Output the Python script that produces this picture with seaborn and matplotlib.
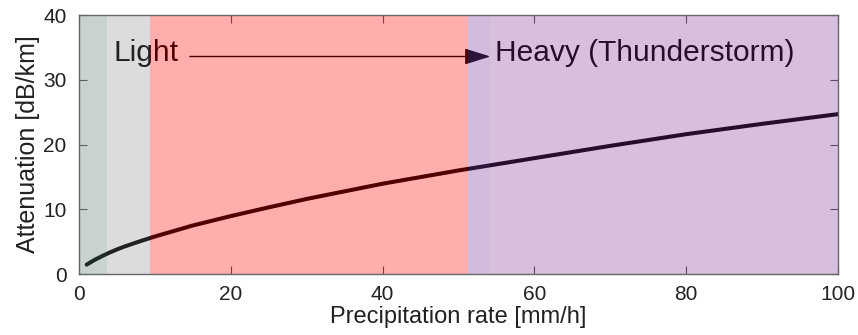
import matplotlib
matplotlib.use("Agg")
import matplotlib.pyplot as plt
import seaborn as sns
import pandas as pd

# Rain attenuation versus precipitation rate
rate_mm_h = [1, 2, 3, 4, 5, 6, 8, 10, 15, 20, 25, 30, 40, 50, 60, 70, 80, 90, 100]
attenuation_db_km = [1.45, 2.15, 2.75, 3.3, 3.8, 4.25, 5.05, 5.8, 7.5, 8.95,
                     10.3, 11.6, 13.95, 16.0, 17.9, 19.8, 21.6, 23.2, 24.7]

# Rain intensity bands (mm/h)
band_edges = [0, 9.4, 51.3, 100]
band_labels = ["Light", "Heavy (Thunderstorm)"]

x_ticks = [0, 20, 40, 60, 80, 100]
y_ticks = [0, 10, 20, 30, 40]

sns.set_style("white")
plt.rcParams["font.family"] = ["Liberation Sans", "DejaVu Sans"]

fig = plt.figure(figsize=(8.58, 3.35), dpi=100)
ax = fig.add_axes([0.0921, 0.182, 0.8846, 0.773])

df = pd.DataFrame({"rate": rate_mm_h, "att": attenuation_db_km})
sns.lineplot(data=df, x="rate", y="att", color="black", lw=2.9, ax=ax, zorder=1)

# Annotations sit beneath the translucent bands
ax.text(4.5, 34.2, band_labels[0], fontsize=21.5, ha="left", va="center",
        color="black", zorder=1)
ax.text(54.8, 34.2, band_labels[1], fontsize=21.5, ha="left", va="center",
        color="black", zorder=1)
ax.annotate("", xy=(54.2, 33.6), xytext=(14.6, 33.6),
            arrowprops=dict(arrowstyle="-|>,head_length=0.8,head_width=0.25",
                            mutation_scale=20, lw=1.0, color="black",
                            shrinkA=0, shrinkB=0), zorder=1)

# Translucent rain bands
ax.axvspan(band_edges[0], band_edges[1], color=(0.5, 0.5, 0.55), alpha=0.27,
           lw=0, zorder=2)
ax.axvspan(0, 3.7, color=(0.0, 0.5, 0.25), alpha=0.09, lw=0, zorder=2)
ax.axvspan(band_edges[1], band_edges[2], color=(1.0, 0.0, 0.0), alpha=0.32,
           lw=0, zorder=2)
ax.axvspan(band_edges[2], band_edges[3], color=(0.50, 0.18, 0.57), alpha=0.30,
           lw=0, zorder=2)
ax.axvspan(51.3, 54.2, color=(0.40, 0.60, 1.0), alpha=0.06, lw=0, zorder=2)

ax.set_xlim(0, 100)
ax.set_ylim(0, 40)
ax.set_xticks(x_ticks)
ax.set_yticks(y_ticks)
ax.tick_params(direction="in", length=6, width=0.8, color="#555555",
               labelsize=15, labelcolor="#222222", top=True, right=True,
               bottom=True, left=True, pad=8)
ax.tick_params(axis="y", pad=9)
ax.set_xticklabels([str(v) for v in x_ticks])
for s in ax.spines.values():
    s.set_color("#666666")
    s.set_linewidth(1.0)
    s.set_zorder(5)

ax.set_xlabel("Precipitation rate [mm/h]", fontsize=17, color="#222222",
              labelpad=1)
ax.set_ylabel("Attenuation [dB/km]", fontsize=18, color="#222222",
              labelpad=2)

fig.savefig("out.png", dpi=100)
